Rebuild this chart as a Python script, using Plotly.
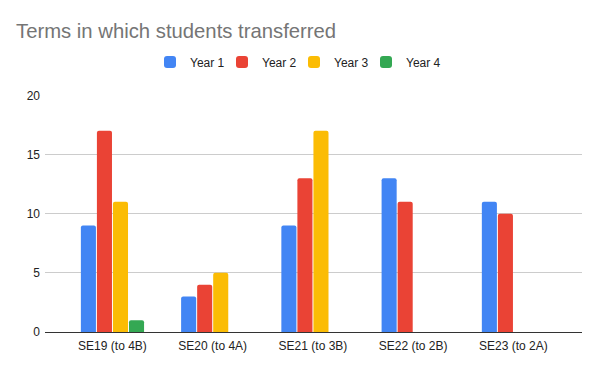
import plotly.graph_objects as go

categories = ["SE19 (to 4B)", "SE20 (to 4A)", "SE21 (to 3B)", "SE22 (to 2B)", "SE23 (to 2A)"]
series_names = ["Year 1", "Year 2", "Year 3", "Year 4"]
year1 = [9, 3, 9, 13, 11]
year2 = [17, 4, 13, 11, 10]
year3 = [11, 5, 17, 0, 0]
year4 = [1, 0, 0, 0, 0]
colors = ["#4285F4", "#EA4335", "#FBBC04", "#34A853"]
y_ticks = [0, 5, 10, 15, 20]

FONT = "Arial, 'Liberation Sans', sans-serif"
W, H = 600, 371
legend_names = ["legend", "legend2", "legend3", "legend4"]
legend_left_px = [150, 222, 294, 366]

fig = go.Figure()
for name, vals, c, lg in zip(series_names, [year1, year2, year3, year4], colors, legend_names):
    fig.add_trace(go.Bar(
        name=name, x=list(range(len(categories))), y=vals, legend=lg,
        marker=dict(color=c, line=dict(width=0), cornerradius=2),
    ))

legend_common = dict(orientation="h", xanchor="left", yanchor="middle",
                     xref="container", yref="container",
                     font=dict(size=12, color="#222222", family=FONT),
                     bgcolor="rgba(0,0,0,0)", borderwidth=0, itemwidth=30)
layout_legends = {}
for lg, px in zip(legend_names, legend_left_px):
    layout_legends[lg] = dict(legend_common, x=px / W, y=1 - 62 / H)

fig.update_layout(
    width=W, height=H,
    margin=dict(l=45, r=18, t=88, b=39),
    paper_bgcolor="white", plot_bgcolor="white",
    barmode="group", bargap=0.36, bargroupgap=0.06,
    font=dict(family=FONT, size=12, color="#222222"),
    title=dict(text="Terms in which students transferred", x=16 / W, xanchor="left",
               xref="container", yref="container",
               y=1 - 31 / H, yanchor="middle",
               font=dict(size=20.3, color="#757575", family=FONT)),
    showlegend=True,
    **layout_legends,
)
fig.update_xaxes(
    tickmode="array", tickvals=list(range(len(categories))), ticktext=categories,
    range=[-0.673, 4.684], showgrid=False, showline=True, linecolor="#333333", linewidth=1,
    ticks="", zeroline=False, fixedrange=True, ticklabelstandoff=3,
)
fig.update_yaxes(
    range=[0, 20], tickvals=y_ticks, showgrid=True, gridcolor="#CCCCCC", gridwidth=1,
    zeroline=False, showline=False, ticks="", ticklabelstandoff=4, fixedrange=True,
)

fig.write_html("out.html", config={"displayModeBar": False},
               post_script="document.body.style.margin='0px';document.body.style.padding='0px';")
